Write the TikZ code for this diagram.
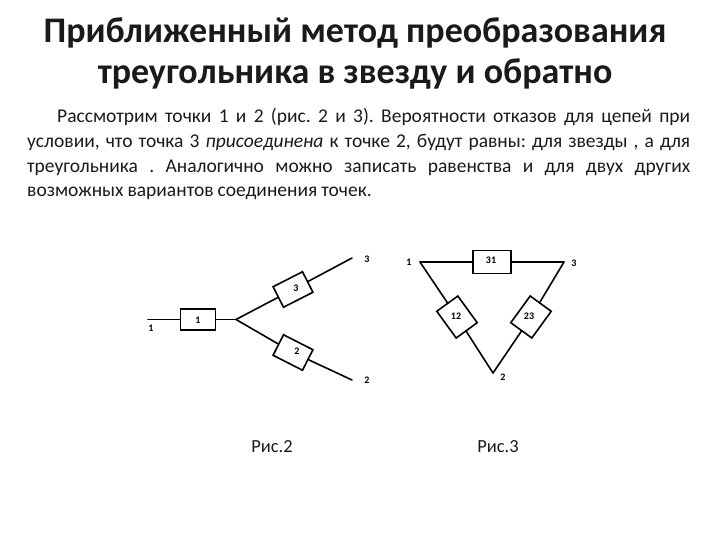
\documentclass[tikz,border=0pt]{standalone}
\usepackage{fontspec}
\setmainfont{Carlito}
\usepackage{tikz}
\usetikzlibrary{calc}
\definecolor{InkDark}{HTML}{1A1A1A}
\tikzset{
  heading/.style={align=center,font=\fontsize{36}{41.5}\selectfont\bfseries,text=InkDark,inner sep=0pt},
  bodytext/.style={align=justify,text width=663pt,inner sep=0pt,text=InkDark,
    font=\fontsize{19.5}{24.8}\selectfont\frenchspacing},
  caption/.style={font=\fontsize{18.5}{22}\selectfont,text=InkDark,inner sep=0pt},
  relay/.style={draw=black,fill=white,line width=1.6pt,inner sep=0pt,
    minimum width=#1,minimum height=23pt},
  relay/.default=33pt,
  tag/.style={font=\fontsize{10}{12}\selectfont\bfseries,inner sep=0pt},
  wire/.style={line width=1.6pt,draw=black,line cap=round}
}
\begin{document}
\begin{tikzpicture}[x=1pt,y=-1pt]
  \useasboundingbox (0,0) rectangle (720,540);
  \node[heading] (title) at (355,53.5) {Приближенный метод преобразования\\треугольника в звезду и обратно};
  \node[bodytext,anchor=north west] (body) at (27,108) {\spaceskip=.2em plus .3em minus .06em\tolerance=9999\parindent=30pt\indent Рассмотрим точки 1 и 2 (рис. 2 и 3). Вероятности отказов для цепей при\linebreak условии, что точка 3 \textit{присоединена} к точке 2, будут равны: для звезды , а для\linebreak треугольника . Аналогично можно записать равенства и для двух других\linebreak возможных вариантов соединения точек.};
  % star
  \coordinate (in1) at (148,319.5);
  \coordinate (star) at (236,319.5);
  \coordinate (out3) at (352,258);
  \coordinate (out2) at (352,380);
  \node[relay=35pt,minimum height=21pt] (box1) at (198,319.5) {};
  \node[relay,rotate=27] (box3) at (293,289.5) {};
  \node[relay,rotate=-27] (box2) at (293,352.5) {};
  \draw[wire] (in1) -- (box1);
  \draw[wire] (box1) -- (star);
  \draw[wire] (star) -- (box3);
  \draw[wire] (box3) -- (out3);
  \draw[wire] (star) -- (box2);
  \draw[wire] (box2) -- (out2);
  \node[tag] (num1) at (198,320) {1};
  \node[tag] (num3) at (296,288) {3};
  \node[tag] (num2) at (297,351) {2};
  \node[tag] (end1) at (151,328) {1};
  \node[tag] (end3) at (367,259) {3};
  \node[tag] (end2) at (367,380) {2};
  % triangle
  \coordinate (v1) at (420,262);
  \coordinate (v3) at (564,262);
  \coordinate (v2) at (493,373);
  \node[relay=38pt] (box31) at (492,262) {};
  \node[relay=33pt,minimum height=26pt,rotate=-54] (box12) at (457,317) {};
  \node[relay=33pt,minimum height=26pt,rotate=54] (box23) at (531,317) {};
  \draw[wire] (v1) -- (box31);
  \draw[wire] (box31) -- (v3);
  \draw[wire] (v1) -- (box12);
  \draw[wire] (box12) -- (v2);
  \draw[wire] (v3) -- (box23);
  \draw[wire] (box23) -- (v2);
  \node[tag] (num31) at (491,260) {31};
  \node[tag] (num12) at (456,316) {12};
  \node[tag] (num23) at (529,316) {23};
  \node[tag] (end1b) at (409,262) {1};
  \node[tag] (end3b) at (574,263) {3};
  \node[tag] (end2b) at (503,377) {2};
  \node[caption] (cap2) at (272,447) {Рис.2};
  \node[caption] (cap3) at (498,447) {Рис.3};
\end{tikzpicture}
\end{document}
